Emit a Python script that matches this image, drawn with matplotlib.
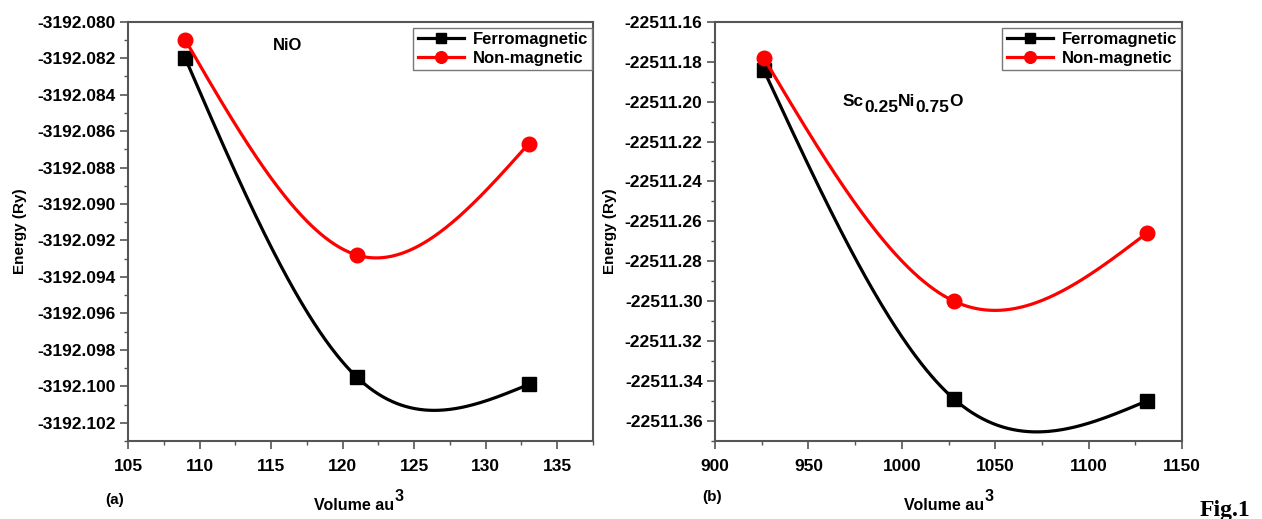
import matplotlib
matplotlib.use("Agg")
import matplotlib.pyplot as plt
import numpy as np
from matplotlib.ticker import MultipleLocator, FormatStrFormatter
from matplotlib.transforms import offset_copy

plt.rcParams['font.family'] = ['Liberation Sans', 'DejaVu Sans']
plt.rcParams['font.weight'] = 'bold'

# (a) NiO
vol_nio = [109, 121, 133]
e_nio_fm = [-3192.0820, -3192.0995, -3192.0999]
e_nio_nm = [-3192.0810, -3192.0928, -3192.0867]

# (b) Sc0.25Ni0.75O
vol_sc = [926, 1028, 1131]
e_sc_fm = [-22511.184, -22511.349, -22511.350]
e_sc_nm = [-22511.178, -22511.300, -22511.266]

labels = ["Ferromagnetic", "Non-magnetic"]


def spline(x, y, n=300):
    # natural cubic spline, like the "Spline" connect option in Origin
    x = np.asarray(x, float)
    y = np.asarray(y, float)
    h = np.diff(x)
    k = len(x)
    A = np.zeros((k, k))
    r = np.zeros(k)
    A[0, 0] = 1
    A[-1, -1] = 1
    for i in range(1, k-1):
        A[i, i-1] = h[i-1]
        A[i, i] = 2*(h[i-1] + h[i])
        A[i, i+1] = h[i]
        r[i] = 6*((y[i+1]-y[i])/h[i] - (y[i]-y[i-1])/h[i-1])
    M = np.linalg.solve(A, r)
    xs = np.linspace(x[0], x[-1], n)
    j = np.clip(np.searchsorted(x, xs) - 1, 0, k-2)
    t0 = xs - x[j]
    t1 = x[j+1] - xs
    hj = h[j]
    ys = (M[j]*t1**3 + M[j+1]*t0**3)/(6*hj) \
        + (y[j]/hj - M[j]*hj/6)*t1 + (y[j+1]/hj - M[j+1]*hj/6)*t0
    return xs, ys


def chain(fig, x, y, pieces, size):
    # write text pieces one after the other, each with its own vertical shift (px)
    r = fig.canvas.get_renderer()
    trans = fig.transFigure
    dx = 0
    for s, dy in pieces:
        t = fig.text(x, y, s, fontsize=size, fontweight='bold', ha='left',
                     va='baseline',
                     transform=offset_copy(trans, fig=fig, x=dx*72/100,
                                           y=dy*72/100, units='points'))
        dx += t.get_window_extent(renderer=r).width


def panel(ax, vol, fm, nm, xlim, ylim, xmaj, xmin, ymaj, ymin, fmt):
    for e, c, m, ms, lab in [(fm, 'black', 's', 9.5, labels[0]),
                             (nm, 'red', 'o', 10.5, labels[1])]:
        xs, ys = spline(vol, e)
        ax.plot(xs, ys, color=c, lw=2.3)
        ax.plot(vol, e, ls='none', marker=m, ms=ms, color=c)
        ax.plot([], [], color=c, lw=2.3, marker=m, ms=ms*0.8, label=lab)

    ax.set_xlim(*xlim)
    ax.set_ylim(*ylim)
    ax.xaxis.set_major_locator(MultipleLocator(xmaj))
    ax.xaxis.set_minor_locator(MultipleLocator(xmin))
    ax.yaxis.set_major_locator(MultipleLocator(ymaj))
    ax.yaxis.set_minor_locator(MultipleLocator(ymin))
    ax.yaxis.set_major_formatter(FormatStrFormatter(fmt))
    ax.tick_params(which='major', direction='out', length=6, width=1.2,
                   labelsize=12.5, color='#555555', pad=3)
    ax.tick_params(which='minor', direction='out', length=3, width=1.0,
                   color='#555555')
    ax.tick_params(axis='x', pad=7)
    for s in ax.spines.values():
        s.set_color('#555555')
        s.set_linewidth(1.5)
    for t in ax.get_xticklabels() + ax.get_yticklabels():
        t.set_fontweight('bold')

    ax.set_ylabel('Energy (Ry)', fontsize=11, fontweight='bold')
    ax.legend(loc='upper right', bbox_to_anchor=(0.998, 0.985),
              borderaxespad=0, fancybox=False, edgecolor='#777777',
              framealpha=1, numpoints=1, handlelength=2.8,
              labelspacing=0.25, borderpad=0.25, handletextpad=0.5,
              prop={'size': 12, 'weight': 'bold'})


fig = plt.figure(figsize=(12.62, 5.19), dpi=100)
ax1 = fig.add_axes([128/1262, 78/519, 465/1262, 419.3/519])
ax2 = fig.add_axes([715/1262, 78/519, 467/1262, 419.3/519])

panel(ax1, vol_nio, e_nio_fm, e_nio_nm, (105, 137.5), (-3192.103, -3192.080),
      5, 2.5, 0.002, 0.001, '%.3f')
panel(ax2, vol_sc, e_sc_fm, e_sc_nm, (900, 1150), (-22511.370, -22511.160),
      50, 25, 0.02, 0.01, '%.2f')

ax1.yaxis.set_label_coords(-0.217, 0.5)
ax2.yaxis.set_label_coords(-0.21, 0.5)

# x axis titles with a full size superscript, like the original
chain(fig, 314/1262, 1 - 510/519, [('Volume au', 0), ('3', 9)], 11.5)
chain(fig, 904/1262, 1 - 510/519, [('Volume au', 0), ('3', 9)], 11.5)

ax1.text(0.344, 0.944, 'NiO', transform=ax1.transAxes, ha='center',
         va='center', fontsize=12, fontweight='bold')
chain(fig, 843/1262, 1 - 106/519,
      [('Sc', 0), ('0.25', -6), ('Ni', 0), ('0.75', -6), ('O', 0)], 12.5)

fig.text(115/1262, 1 - 500/519, '(a)', ha='center', va='center', fontsize=11,
         fontweight='bold')
fig.text(712/1262, 1 - 497/519, '(b)', ha='center', va='center', fontsize=11,
         fontweight='bold')
fig.text(1200/1262, 1 - 516/519, 'Fig.1', ha='left', va='baseline',
         fontsize=17, fontweight='bold', family='Liberation Serif')

fig.savefig('out.png', dpi=100)
